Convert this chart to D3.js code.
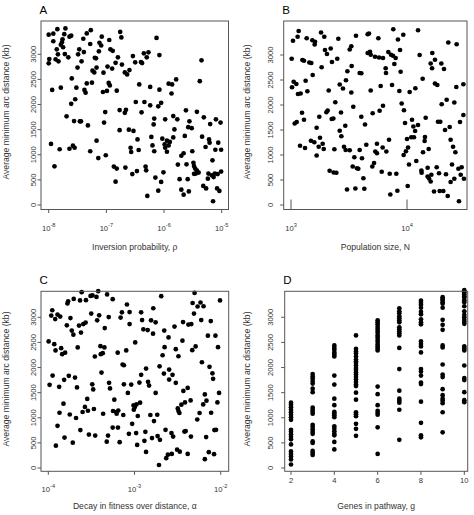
<!DOCTYPE html>
<html><head><meta charset="utf-8">
<script src="https://cdn.jsdelivr.net/npm/d3@7/dist/d3.min.js"></script>
<style>
body{margin:0;background:#fff}
svg{display:block}
text{font-family:"Liberation Sans",Arial,Helvetica,sans-serif}
</style>
</head><body>
<svg id="chart" width="474" height="515"></svg>
<script>
// ---------- DATA (x values stored as log10 for the log-scaled panels) ----------
const rhoLog10 = [-8.00,-7.92,-7.85,-7.71,-7.73,-7.64,-7.61,-7.92,-7.76,-7.77,-7.79,-7.75,-7.86,-7.84,-7.99,-8.00,-7.88,-7.83,-7.72,-7.66,
-7.40,-7.34,-7.27,-7.28,-7.08,-7.12,-7.09,-6.95,-6.76,-6.74,-6.13,-7.47,-7.39,-7.49,-7.13,-6.93,-6.89,-7.20,-7.18,-6.80,
-7.43,-7.50,-7.24,-7.21,-7.17,-7.05,-6.98,-6.90,-6.84,-6.73,-6.54,-6.35,-6.27,-6.30,-6.08,-6.50,-6.40,-6.38,-5.35,-6.68,
-6.64,-6.60,-7.60,-7.94,-7.79,-7.52,-7.38,-7.36,-7.34,-7.25,-6.96,-6.94,-7.06,-6.99,-6.82,-6.43,-6.24,-6.08,-5.92,-5.86,
-5.79,-5.87,-5.38,-7.54,-7.61,-7.02,-6.77,-6.66,-6.68,-6.49,-6.34,-6.24,-6.10,-6.05,-6.39,-5.62,-5.43,
-7.69,-7.56,-7.46,-7.44,-7.32,-7.04,-6.77,-6.61,-6.53,-6.46,-6.22,-6.17,-6.18,-5.98,-5.84,-5.77,-5.56,-5.58,-5.52,-5.31,
-5.10,-5.02,-5.20,-5.82,-5.64,-6.03,-5.95,-5.90,-5.99,-5.92,-5.98,-5.95,-5.84,-6.20,-6.17,-6.58,-6.57,-6.44,-7.96,-7.81,
-7.64,-7.58,-7.55,-7.28,-7.17,-7.14,-7.01,-7.90,-6.87,-6.82,-6.67,-6.84,-6.55,-6.47,-6.32,-6.31,-6.15,-6.01,-6.05,-6.29,
-6.10,-5.76,-5.70,-5.66,-5.61,-5.51,-5.73,-5.59,-5.70,-5.66,-5.57,-5.49,-5.48,-5.46,-5.43,-5.40,-5.45,-5.48,-5.34,-5.28,
-5.22,-5.21,-5.16,-5.11,-5.06,-5.01,-5.23,-5.17,-5.14,-5.12,-5.07,-5.01,-5.24,-5.32,-5.27,-5.08,-5.04,-5.15];
const distA = [3390,3410,3500,3515,3400,3350,3370,3260,3300,3240,3190,3140,3100,3000,2905,2820,2900,2860,3005,2940,
3310,3415,3480,3205,3350,3230,3175,3285,3445,3335,3325,3100,3045,3000,3060,3100,3070,2930,2920,2940,
2860,2735,2675,2640,2735,2635,2755,2715,2830,2795,2965,3020,3040,2940,2985,2840,2845,2825,2880,2640,
2600,2685,2520,2290,2335,2335,2290,2235,2420,2435,2430,2380,2250,2270,2275,2400,2350,2295,2415,2400,
2500,2220,2465,2105,2015,1850,1890,1895,1835,2050,2050,1985,1965,2035,1845,1885,1855,
1765,1670,1665,1665,1585,1640,1490,1500,1475,1305,1355,1720,1605,1705,1770,1705,1665,1550,1530,1745,
1705,1640,1610,1505,1375,1320,1280,1255,1205,1185,1140,1060,1345,1185,1070,1140,1055,1095,1215,1110,
1120,1180,1140,1070,1280,935,990,770,765,725,745,465,615,675,765,690,545,650,460,180,
285,805,980,1030,810,1070,515,515,305,205,270,840,775,725,685,645,625,620,1360,1155,
1305,1240,890,1100,1240,1100,625,590,555,625,615,665,525,380,330,330,280,75];

const popLog10 = [3.066,3.057,3.017,3.135,3.184,3.207,3.204,3.259,3.287,3.408,3.293,3.310,3.342,3.399,3.353,3.264,3.006,3.098,3.112,3.158,
3.175,3.560,3.661,3.672,3.753,3.506,3.520,3.661,3.681,3.687,3.724,3.759,3.793,3.839,3.862,3.879,3.902,3.940,3.882,3.922,
3.968,4.095,4.109,4.356,4.428,4.218,4.241,4.204,4.216,4.296,4.319,3.891,3.816,3.819,3.945,3.523,3.486,3.592,3.606,3.187,
3.126,3.023,3.046,3.009,3.060,3.083,3.141,3.325,3.420,3.448,3.474,3.520,3.687,3.773,3.871,3.934,4.023,4.072,4.135,4.241,
4.261,4.425,4.486,3.382,3.537,3.793,3.764,3.704,3.305,3.316,3.431,3.095,3.954,3.974,4.299,4.342,4.408,
3.049,3.032,3.112,3.244,3.221,3.351,3.365,3.420,3.434,3.468,3.606,3.638,3.250,3.172,3.201,3.239,3.273,3.282,3.078,3.121,
3.221,3.374,3.457,3.471,3.506,3.592,3.649,3.546,3.612,3.741,3.727,3.741,3.790,3.822,3.845,3.532,3.569,3.580,3.716,3.701,
3.782,3.851,3.908,3.624,3.333,3.368,3.391,3.483,3.555,3.632,3.856,3.917,4.006,3.983,4.043,4.055,4.095,4.070,4.037,4.060,
4.000,4.155,4.152,4.009,3.991,3.971,4.187,4.138,4.161,4.017,4.080,4.124,4.126,4.178,4.178,4.190,4.204,4.210,4.256,4.276,
4.267,4.287,4.328,4.368,4.457,4.486,4.376,4.397,4.417,4.388,4.336,4.443,4.471,4.463,4.491,4.376,4.408,4.233,4.282,4.313,
4.351,4.448];
const distB = [3480,3365,3285,3335,3295,3265,3210,3450,3365,3325,3100,3020,3130,2925,2860,2755,2925,2900,2885,2850,
2840,3385,3415,3430,3335,3110,3175,3040,3065,3005,2965,2950,2940,3060,3005,2985,2940,3100,3515,3310,
3405,3495,3000,3250,3215,3040,2905,2830,2735,2830,2720,2820,2735,2640,2665,2780,2675,2640,2635,2600,
2485,2465,2420,2355,2220,2230,2275,2290,2410,2330,2495,2250,2290,2380,2400,2280,2260,2335,2525,2430,
2400,2360,2415,2055,1965,1985,1885,1835,1855,1890,1850,1845,2030,1895,2015,2105,2050,
1660,1630,1705,1765,1545,1720,1730,1485,1375,1585,1765,1610,1345,1285,1255,1165,1225,1120,1185,1140,
990,1115,1165,1100,1095,1100,1205,955,935,1225,1070,1035,1150,1070,1305,770,735,725,840,770,
665,625,625,535,685,650,645,310,330,325,210,285,380,1640,1705,1570,1600,1480,1355,1355,
1320,1360,1280,1150,1075,1000,1120,1055,1745,810,880,690,645,745,570,530,470,605,755,635,
1665,1665,1500,1560,1660,1800,1305,1165,1055,810,615,725,755,605,525,460,525,270,280,280,
180,75];

const alphaLog10 = [-3.613,-3.421,-3.510,-3.487,-3.441,-3.563,-3.632,-3.705,-3.770,-3.778,-3.318,-3.253,-3.954,-3.966,-3.920,-3.893,-3.862,-3.785,-3.743,-3.728,
-3.709,-3.644,-3.594,-3.567,-3.621,-3.502,-3.433,-3.410,-3.345,-3.299,-3.146,-3.161,-3.088,-3.057,-3.057,-2.923,-2.912,-2.897,-2.847,-2.808,
-2.755,-2.782,-2.785,-2.690,-2.655,-2.605,-2.536,-2.437,-2.375,-2.341,-2.303,-2.326,-2.268,-2.234,-2.199,-2.310,-2.226,-2.115,-2.008,-2.149,
-2.061,-2.031,-3.996,-3.931,-3.916,-3.851,-3.839,-3.805,-3.659,-3.460,-3.395,-3.349,-3.391,-3.368,-3.195,-3.096,-2.992,-3.138,-3.123,-2.651,
-2.674,-2.521,-2.490,-2.444,-2.330,-2.291,-2.218,-2.130,-2.096,-2.088,-2.709,-2.659,-2.598,-2.559,-2.598,-2.866,-2.923,-3.950,-3.816,-3.762,
-3.690,-3.383,
-3.985,-3.874,-3.667,-3.490,-3.479,-3.295,-3.284,-3.123,-3.038,-3.077,-2.943,-2.843,-2.831,-2.755,-2.521,-2.433,-2.383,-2.184,-2.019,-3.824,
-3.870,-3.751,-3.678,-3.602,-3.575,-3.540,-3.548,-3.471,-3.364,-3.234,-3.249,-3.211,-3.188,-3.207,-3.130,-3.011,-2.996,-3.008,-2.977,-2.935,
-2.962,-3.027,-2.816,-2.736,-2.774,-2.498,-2.490,-2.456,-2.414,-2.349,-2.479,-2.245,-2.203,-2.165,-2.038,-2.111,-2.272,-3.893,-3.628,-3.529,
-3.456,-3.253,-3.192,-3.307,-3.322,-3.172,-3.065,-2.981,-2.874,-2.885,-2.969,-2.797,-2.732,-2.705,-2.640,-2.571,-2.552,-2.421,-2.406,-2.345,
-2.169,-2.073,-2.054,-3.812,-3.912,-3.716,-2.866,-2.716,-2.632,-2.613,-2.567,-2.506,-2.475,-2.383,-2.184,-2.138,-2.077];
const distC = [3500,3520,3425,3435,3405,3340,3335,3365,3320,3275,3455,3360,3140,3035,2965,3055,3015,2840,2985,2735,
2655,2835,2865,2895,2695,3075,2940,3040,2785,3005,3100,2995,3255,3105,2865,3100,2945,2760,2745,2940,
2900,3180,2675,3420,2735,2600,2815,2905,2855,2865,3485,3285,3215,3295,3220,3075,2945,2925,3335,2635,
2635,2405,2520,2465,2340,2385,2265,2295,2400,2220,2425,2400,2265,2285,2295,2340,2500,2060,2045,2405,
2245,2365,2225,2535,2345,2420,2105,2015,1885,1775,2025,1880,1960,1855,1760,1980,1855,1840,1755,1835,
1800,1900,
1655,1615,1605,1665,1565,1695,1585,1665,1660,1495,1700,1715,1640,1495,1695,1535,1595,1465,1495,1280,
1100,1065,995,1115,1215,1140,1375,1175,1080,1360,1135,1115,1145,1080,1055,1245,1215,1160,1265,1300,
1035,880,1055,1060,935,1185,1135,1260,1305,1345,1095,1095,1265,1340,1305,1100,965,840,755,665,
645,805,805,645,525,515,680,695,720,540,460,595,635,560,760,695,625,725,735,625,
615,755,760,605,445,505,320,60,195,265,280,365,325,280,175,315,275];

const geneCounts = [2,3,4,5,6,7,8,9,10];
const distByGenes = [
  [1300,1260,1210,1160,1110,1060,1010,960,760,720,670,620,570,470,330,280,230,170,70],
  [1870,1820,1780,1730,1680,1580,1510,1200,1160,1120,1080,860,820,770,720,680,530,500,340,300,260],
  [2440,2390,2350,2300,2260,2220,1840,1660,1380,1250,1120,1090,1050,1010,830,780,730,680,650,520,370],
  [2640,2370,2320,2280,2220,2160,2120,2090,2040,1990,1950,1900,1860,1810,1760,1710,1660,1630,1500,1360,1110,1070,1030,880,780,640],
  [2940,2900,2860,2810,2770,2730,2690,2640,2600,2550,2510,2460,2420,2380,2340,1620,1470,1250,1140,1100,1060,810,280],
  [3180,3120,3080,3020,2980,2940,2900,2800,2760,2720,2680,2640,2390,1970,1540,1380,1340,1300,1160,560],
  [3330,3290,3250,3190,3110,3060,2960,2900,2860,2520,2470,2420,2300,1970,1920,1840,1700,1670,1320,900,650,610],
  [3400,3370,3340,3300,3270,3190,2950,2850,2750,2440,2400,2060,1860,1810,1570,1450,1380,1340,1290,1110,710],
  [3540,3500,3460,3420,3390,3340,3300,3220,3120,3050,3000,2950,2910,2870,2420,2380,2340,2040,1790,1750,1510,1350,1310]
];

const yTickValues = [0,500,1000,1500,2000,2500,3000];
const yTitle = "Average minimum arc distance (kb)";

// ---------- LAYOUT ----------
const svg = d3.select("#chart");
const TXT = "#333", AX = "#555";

const geneX = [], geneY = [];
geneCounts.forEach((g,i)=>distByGenes[i].forEach(v=>{geneX.push(g);geneY.push(v);}));

const panels = [
 {letter:"A", box:[41,21,228.5,209.5], xdom:[-8,-5], xr:[48.7,221.7], yr:[205,54.3],
  xs:rhoLog10, ys:distA, xt:[-8,-7,-6,-5], log:true, inward:false,
  title:"Inversion probability, \u03c1", ylabX:36, ytitX:9, xlabY:230.5, xtitY:250, ytitY:112},
 {letter:"B", box:[283.7,21,467,209.5], xdom:[3,4], xr:[291,407], yr:[205,55],
  xs:popLog10, ys:distB, xt:[3,4], log:true, inward:true,
  title:"Population size,  N", ylabX:273, ytitX:250, xlabY:230.5, xtitY:250, ytitY:112},
 {letter:"C", box:[41,291.3,228.7,471.3], xdom:[-4,-2], xr:[48.3,220.7], yr:[468,317.3],
  xs:alphaLog10, ys:distC, xt:[-4,-3,-2], log:true, inward:false,
  title:"Decay in fitness over distance,  \u03b1", ylabX:36, ytitX:9, xlabY:491.5, xtitY:508.5, ytitY:379},
 {letter:"D", box:[284.7,291.3,467.7,471.3], xdom:[2,10], xr:[291,464.3], yr:[468,317.3],
  xs:geneX, ys:geneY, xt:[2,4,6,8,10], log:false, inward:false,
  title:"Genes in pathway, g", ylabX:273, ytitX:250, xlabY:483, xtitY:508.5, ytitY:379}
];

panels.forEach(p=>{
  const [L,T,R,B] = p.box;
  const x = d3.scaleLinear().domain(p.xdom).range(p.xr);
  const y = d3.scaleLinear().domain([0,3000]).range(p.yr);
  const g = svg.append("g");

  // points
  g.selectAll("circle").data(d3.range(p.xs.length)).join("circle")
    .attr("cx", i=>x(p.xs[i])).attr("cy", i=>y(p.ys[i])).attr("r",2.35).attr("fill","#000");

  // box
  g.append("rect").attr("x",L).attr("y",T).attr("width",R-L).attr("height",B-T)
    .attr("fill","none").attr("stroke",AX).attr("stroke-width",1);

  // y axis ticks + labels
  yTickValues.forEach(v=>{
    g.append("line").attr("x1",L-3.5).attr("x2",L).attr("y1",y(v)).attr("y2",y(v))
      .attr("stroke",AX).attr("stroke-width",1);
    g.append("text").attr("transform",`translate(${p.ylabX},${y(v)}) rotate(-90)`)
      .attr("text-anchor","middle").attr("font-size",7.6).attr("fill",TXT).text(v);
  });

  // x axis ticks + labels
  p.xt.forEach(v=>{
    const xx = x(v);
    if(p.inward){
      g.append("line").attr("x1",xx).attr("x2",xx).attr("y1",B).attr("y2",B-10)
        .attr("stroke",AX).attr("stroke-width",1);
    } else {
      g.append("line").attr("x1",xx).attr("x2",xx).attr("y1",B).attr("y2",B+3.5)
        .attr("stroke",AX).attr("stroke-width",1);
    }
    const t = g.append("text").attr("x",xx).attr("y",p.xlabY).attr("text-anchor","middle")
      .attr("font-size",7.6).attr("fill",TXT);
    if(p.log){
      t.append("tspan").text("10");
      t.append("tspan").attr("dy",-3.6).attr("font-size",5.6).text(v);
    } else t.text(v);
  });

  // titles
  g.append("text").attr("x",(L+R)/2).attr("y",p.xtitY).attr("text-anchor","middle")
    .attr("font-size",8.6).attr("fill",TXT).text(p.title);
  g.append("text").attr("transform",`translate(${p.ytitX},${p.ytitY}) rotate(-90)`)
    .attr("text-anchor","middle").attr("font-size",8.6).attr("fill",TXT).text(yTitle);
  g.append("text").attr("x",L-1.5).attr("y",T-7.5).attr("font-size",11.5).attr("fill","#000").text(p.letter);
});
</script>
</body></html>
